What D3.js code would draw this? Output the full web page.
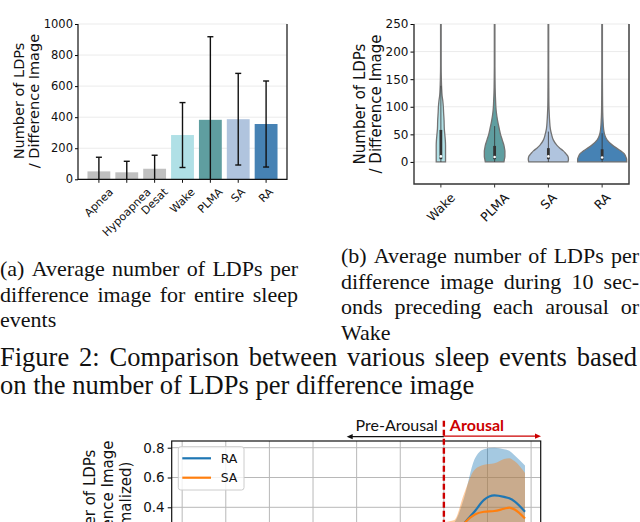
<!DOCTYPE html>
<html>
<head>
<meta charset="utf-8">
<script src="https://cdn.jsdelivr.net/npm/d3@7"></script>
<style>
  body { margin: 0; background: #fff; }
  svg { display: block; }
</style>
</head>
<body>
<div id="page"></div>
<script>
// (a) average LDPs per difference image over whole events
var eventNames = ["Apnea", "Hypoapnea", "Desat", "Wake", "PLMA", "SA", "RA"];
var eventMean = [51, 45, 68, 285, 383, 387, 356];
var eventStd = [91, 71, 87, 209, 535, 295, 277];
var countTicks = [0, 200, 400, 600, 800, 1000];

// (b) 10 s preceding each arousal / wake, violin half widths in % of widest
var arousalNames = ["Wake", "PLMA", "SA", "RA"];
var violinLevels = [0, 5, 10, 15, 20, 25, 30, 40, 50, 60, 75, 90, 100, 110, 120, 135, 150, 175, 200, 250];
var wakeWidth = [19, 19, 19, 19, 19, 19, 19, 18, 16, 14, 13, 11, 10, 8, 5, 3, 2, 1.2, 1.2, 1.2];
var plmaWidth = [38, 40, 42, 42, 42, 40, 38, 31, 24, 19, 12, 7, 5, 4, 3, 2, 1.6, 1.2, 1.2, 1.2];
var saWidth = [80, 82, 80, 71, 61, 47, 35, 20, 13, 8, 5, 3.3, 2.4, 2, 1.8, 1.6, 1.4, 1.2, 1.2, 1.2];
var raWidth = [100, 100, 96, 90, 76, 59, 43, 20, 10, 6, 3.7, 2.4, 2, 1.8, 1.6, 1.4, 1.2, 1.2, 1.2, 1.2];
var boxQ1 = [5, 5, 5, 4];
var boxMedian = [10, 9, 10, 8];
var boxQ3 = [58, 29, 25, 23];
var whiskerTop = [138, 65, 55, 52];
var violinTicks = [0, 50, 100, 150, 200, 250];

// (c) normalized LDPs around the arousal onset
var seriesNames = ["RA", "SA"];
var timeSec = [-30, -25, -20, -15, -10, -5, 0, 1.2, 2.3, 3.5, 4.6, 5.8, 6.9, 7.5, 8.1, 9.3];
var raMean = [0.12, 0.12, 0.13, 0.12, 0.13, 0.14, 0.16, 0.2, 0.29, 0.37, 0.45, 0.48, 0.47, 0.46, 0.44, 0.37];
var raStd = [0.14, 0.14, 0.14, 0.14, 0.13, 0.13, 0.11, 0.1, 0.17, 0.35, 0.34, 0.32, 0.32, 0.32, 0.31, 0.31];
var saMean = [0.1, 0.1, 0.11, 0.1, 0.11, 0.12, 0.14, 0.19, 0.29, 0.35, 0.37, 0.375, 0.39, 0.398, 0.385, 0.325];
var saStd = [0.14, 0.14, 0.14, 0.14, 0.14, 0.14, 0.16, 0.125, 0.2, 0.3, 0.315, 0.32, 0.335, 0.332, 0.325, 0.305];
var normTicks = [0, 0.2, 0.4, 0.6, 0.8];
var timeTicks = [-30, -25, -20, -15, -10, -5, 0, 5, 10];

// captions
var capA = ["(a) Average number of LDPs per", "difference image for entire sleep", "events"];
var capB = ["(b) Average number of LDPs per", "difference image during 10 sec-", "onds preceding each arousal or", "Wake"];
var figCap = ["Figure 2: Comparison between various sleep events based", "on the number of LDPs per difference image"];

var barColors = ["#c0c0c0", "#c0c0c0", "#c0c0c0", "#b0e0e6", "#5f9ea0", "#b0c4de", "#4682b4"];
var violinColors = ["#b0e0e6", "#5f9ea0", "#b0c4de", "#4682b4"];
var lineColors = ["#1f77b4", "#ff7f0e"];
var sans = "DejaVu Sans, sans-serif";
var serif = "Liberation Serif, Times New Roman, serif";

var svg = d3.select("#page").append("svg")
    .attr("width", 640)
    .attr("height", 522)
    .style("background", "#fff");

// helpers
function yLabel(lines, cx, cy, spacing, size) {
    lines.forEach(function (t, i) {
        svg.append("text")
            .attr("transform", "translate(" + (cx + (i - (lines.length - 1) / 2) * spacing) + "," + cy + ") rotate(-90)")
            .attr("text-anchor", "middle")
            .attr("dominant-baseline", "central")
            .attr("font-family", sans)
            .attr("font-size", size)
            .attr("fill", "#111")
            .text(t);
    });
}

function slantLabels(names, xPos, axisY, size) {
    names.forEach(function (t, i) {
        var lbl = svg.append("text")
            .attr("text-anchor", "middle")
            .attr("dominant-baseline", "central")
            .attr("font-family", sans)
            .attr("font-size", size)
            .attr("fill", "#111")
            .text(t);
        var len = lbl.node().getComputedTextLength();
        var h = (len + size * 0.75) * 0.7071;
        lbl.attr("transform", "translate(" + xPos(i) + "," + (axisY + 8 + h / 2) + ") rotate(-45)");
    });
}

function justify(lines, x0, width, y0, lead, size) {
    lines.forEach(function (line, li) {
        var words = line.split(" ");
        var t = svg.append("text")
            .attr("y", y0 + li * lead)
            .attr("font-family", serif)
            .attr("font-size", size)
            .attr("fill", "#111");
        var spans = words.map(function (w) { return t.append("tspan").text(w); });
        var lens = spans.map(function (s) { return s.node().getComputedTextLength(); });
        var last = li == lines.length - 1;
        var gap = last ? size * 0.25 : (width - d3.sum(lens)) / (words.length - 1);
        var x = x0;
        spans.forEach(function (s, i) {
            s.attr("x", x);
            x += lens[i] + gap;
        });
    });
}

//CHART (a) BARS WITH ERROR BARS
var ax = d3.scaleLinear().domain([-0.75, 6.75]).range([78, 287]);
var ay = d3.scaleLinear().domain([0, 1000]).range([179.3, 24]);

svg.append("g").selectAll("line")
    .data(countTicks.slice(1))
    .enter().append("line")
    .attr("x1", 78).attr("x2", 287)
    .attr("y1", d => ay(d)).attr("y2", d => ay(d))
    .attr("stroke", "#ebebeb").attr("stroke-width", 1);

svg.append("g").selectAll("rect")
    .data(eventMean)
    .enter().append("rect")
    .attr("x", (d, i) => ax(i - 0.41))
    .attr("width", ax(0.41) - ax(-0.41))
    .attr("y", d => ay(d))
    .attr("height", d => ay(0) - ay(d))
    .attr("fill", (d, i) => barColors[i]);

var errs = svg.append("g").attr("stroke", "#111").attr("stroke-width", 1.4);
eventMean.forEach(function (m, i) {
    var lo = ay(Math.max(0, m - eventStd[i])), hi = ay(m + eventStd[i]);
    errs.append("line").attr("x1", ax(i)).attr("x2", ax(i)).attr("y1", lo).attr("y2", hi);
    errs.append("line").attr("x1", ax(i) - 3).attr("x2", ax(i) + 3).attr("y1", hi).attr("y2", hi);
    if (m - eventStd[i] > 0)
        errs.append("line").attr("x1", ax(i) - 3).attr("x2", ax(i) + 3).attr("y1", lo).attr("y2", lo);
});

var ayAxis = svg.append("g")
    .attr("transform", "translate(78,0)")
    .call(d3.axisLeft(ay).tickValues(countTicks).tickFormat(d3.format("d")).tickSize(3).tickPadding(2));
ayAxis.select(".domain").remove();
ayAxis.selectAll("text").attr("font-family", sans).attr("font-size", 11.5).attr("fill", "#111");

svg.append("g").selectAll("line")
    .data(eventNames)
    .enter().append("line")
    .attr("x1", (d, i) => ax(i)).attr("x2", (d, i) => ax(i))
    .attr("y1", 179.3).attr("y2", 182.8)
    .attr("stroke", "#111");

svg.append("path")
    .attr("d", "M78,24V179.3H287V24")
    .attr("fill", "none").attr("stroke", "#111").attr("stroke-width", 1.2);

slantLabels(eventNames, ax, 179.3, 11);
yLabel(["Number of LDPs", "/ Difference Image"], 26.5, 101, 15.5, 14.5);

//CHART (b) VIOLINS
var vx = d3.scaleLinear().domain([-0.5, 3.5]).range([414, 629]);
var vy = d3.scaleLinear().domain([-40, 250]).range([184, 24]);
var vw = d3.scaleLinear().domain([0, 100]).range([0, 24.5]);
var widths = [wakeWidth, plmaWidth, saWidth, raWidth];

svg.append("defs").append("clipPath").attr("id", "clipB")
    .append("rect").attr("x", 414).attr("y", 24).attr("width", 215).attr("height", 160);

svg.append("g").selectAll("line")
    .data(violinTicks)
    .enter().append("line")
    .attr("x1", 414).attr("x2", 629)
    .attr("y1", d => vy(d)).attr("y2", d => vy(d))
    .attr("stroke", "#ebebeb").attr("stroke-width", 1);

var vg = svg.append("g").attr("clip-path", "url(#clipB)");
arousalNames.forEach(function (name, i) {
    var cx = vx(i);
    var pts = violinLevels.map((v, k) => ({ v: v, w: widths[i][k] }));
    var area = d3.area()
        .y(d => vy(d.v))
        .x0(d => cx - vw(d.w))
        .x1(d => cx + vw(d.w))
        .curve(d3.curveMonotoneY);
    vg.append("path")
        .attr("d", area(pts))
        .attr("fill", violinColors[i])
        .attr("stroke", "#737373")
        .attr("stroke-width", 1.3);
    vg.append("line")
        .attr("x1", cx).attr("x2", cx)
        .attr("y1", vy(0)).attr("y2", vy(whiskerTop[i]))
        .attr("stroke", "#333").attr("stroke-width", 0.8);
    vg.append("rect")
        .attr("x", cx - 1.4).attr("width", 2.8)
        .attr("y", vy(boxQ3[i])).attr("height", vy(boxQ1[i]) - vy(boxQ3[i]))
        .attr("fill", "#333");
    vg.append("circle")
        .attr("cx", cx).attr("cy", vy(boxMedian[i])).attr("r", 1.3)
        .attr("fill", "#fff");
});

var vyAxis = svg.append("g")
    .attr("transform", "translate(414,0)")
    .call(d3.axisLeft(vy).tickValues(violinTicks).tickSize(3.5).tickPadding(2));
vyAxis.select(".domain").remove();
vyAxis.selectAll("text").attr("font-family", sans).attr("font-size", 12).attr("fill", "#111");

svg.append("g").selectAll("line")
    .data(arousalNames)
    .enter().append("line")
    .attr("x1", (d, i) => vx(i)).attr("x2", (d, i) => vx(i))
    .attr("y1", 184).attr("y2", 187.5)
    .attr("stroke", "#333");

svg.append("path")
    .attr("d", "M414,24V184H629V24")
    .attr("fill", "none").attr("stroke", "#333").attr("stroke-width", 1.4);

slantLabels(arousalNames, vx, 184, 12.5);
yLabel(["Number of LDPs", "/ Difference Image"], 368, 104, 16, 15);

//CAPTIONS
justify(capA, 0, 298, 276, 25.5, 22);
justify(capB, 341, 298, 263, 25.5, 22);
justify(figCap, 0, 637, 366, 28, 26.5);

//CHART (c) NORMALIZED CURVES
var cx = d3.scaleLinear().domain([-31.2, 11.1]).range([171.7, 540.7]);
var cy = d3.scaleLinear().domain([-0.088, 0.845]).range([580, 441]);

svg.append("defs").append("clipPath").attr("id", "clipC")
    .append("rect").attr("x", 171.7).attr("y", 441).attr("width", 369).attr("height", 139);

var grid = svg.append("g").attr("stroke", "#b8b8b8").attr("stroke-width", 1);
grid.selectAll(".gx").data(timeTicks).enter().append("line")
    .attr("x1", d => cx(d)).attr("x2", d => cx(d))
    .attr("y1", 441).attr("y2", 580);
grid.selectAll(".gy").data(normTicks).enter().append("line")
    .attr("x1", 171.7).attr("x2", 540.7)
    .attr("y1", d => cy(d)).attr("y2", d => cy(d));

var series = [
    { mean: raMean, std: raStd },
    { mean: saMean, std: saStd }
];
var cg = svg.append("g").attr("clip-path", "url(#clipC)");
series.forEach(function (s, i) {
    var band = d3.area()
        .x((d, k) => cx(timeSec[k]))
        .y0((d, k) => cy(d - s.std[k]))
        .y1((d, k) => cy(d + s.std[k]))
        .curve(d3.curveMonotoneX);
    cg.append("path").attr("d", band(s.mean))
        .attr("fill", lineColors[i]).attr("fill-opacity", 0.4);
});
series.forEach(function (s, i) {
    var line = d3.line()
        .x((d, k) => cx(timeSec[k]))
        .y(d => cy(d))
        .curve(d3.curveMonotoneX);
    cg.append("path").attr("d", line(s.mean))
        .attr("fill", "none").attr("stroke", lineColors[i]).attr("stroke-width", 2.2);
});

var cyAxis = svg.append("g")
    .attr("transform", "translate(171.7,0)")
    .call(d3.axisLeft(cy).tickValues(normTicks).tickFormat(d3.format(".1f")).tickSize(4).tickPadding(3));
cyAxis.select(".domain").remove();
cyAxis.selectAll("text").attr("font-family", sans).attr("font-size", 13.5).attr("fill", "#111");

svg.append("rect")
    .attr("x", 171.7).attr("y", 441).attr("width", 369).attr("height", 139)
    .attr("fill", "none").attr("stroke", "#111").attr("stroke-width", 1.2);

// legend
var leg = svg.append("g");
leg.append("rect")
    .attr("x", 178.3).attr("y", 446.7).attr("width", 65.7).attr("height", 43.3).attr("rx", 2.5)
    .attr("fill", "#fff").attr("fill-opacity", 0.8).attr("stroke", "#cccccc");
seriesNames.forEach(function (n, i) {
    var yy = 458.3 + i * 19.4;
    leg.append("line").attr("x1", 182.3).attr("x2", 211).attr("y1", yy).attr("y2", yy)
        .attr("stroke", lineColors[i]).attr("stroke-width", 2.2);
    leg.append("text").attr("x", 220.7).attr("y", yy)
        .attr("dominant-baseline", "central")
        .attr("font-family", sans).attr("font-size", 12.5).attr("fill", "#111")
        .text(n);
});

// arousal onset marker and arrows
var onset = cx(0);
svg.append("line")
    .attr("x1", onset).attr("x2", onset).attr("y1", 420.7).attr("y2", 580)
    .attr("stroke", "#cc0000").attr("stroke-width", 2.4).attr("stroke-dasharray", "6,3");
svg.append("line")
    .attr("x1", onset).attr("x2", 350).attr("y1", 436.7).attr("y2", 436.7)
    .attr("stroke", "#111").attr("stroke-width", 1.2);
svg.append("path").attr("d", "M346.7,436.7l6,-2.6v5.2z").attr("fill", "#111");
svg.append("line")
    .attr("x1", onset).attr("x2", 537).attr("y1", 436.2).attr("y2", 436.2)
    .attr("stroke", "#cc0000").attr("stroke-width", 1.2);
svg.append("path").attr("d", "M541,436.2l-6,-2.6v5.2z").attr("fill", "#cc0000");
svg.append("text")
    .attr("x", onset - 6).attr("y", 431)
    .attr("text-anchor", "end")
    .attr("font-family", "Lato, sans-serif").attr("font-size", 16).attr("fill", "#111")
    .text("Pre-Arousal");
svg.append("text")
    .attr("x", onset + 6).attr("y", 431)
    .attr("font-family", "Lato, sans-serif").attr("font-size", 16).attr("font-weight", "bold").attr("fill", "#cc0000")
    .text("Arousal");

yLabel(["Number of LDPs", "/ Difference Image", "(Normalized)"], 108, 510, 18, 15);
</script>
</body>
</html>
